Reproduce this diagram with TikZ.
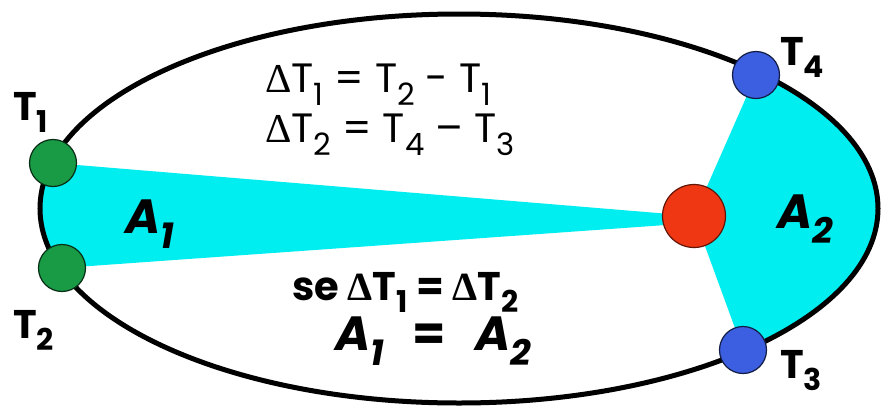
\documentclass[tikz,border=0pt]{standalone}
\usepackage{fontspec}
\setmainfont{Poppins}
\newfontfamily\grk{Liberation Serif}
\definecolor{skyfill}{RGB}{0,238,240}
\definecolor{planetgreen}{RGB}{25,155,70}
\definecolor{planetblue}{RGB}{60,95,225}
\definecolor{sunred}{RGB}{240,55,20}
\newcommand\sbx[1]{\raisebox{-0.32em}{\scalebox{0.75}{#1}}}
\newcommand\dlt{{\grk Δ}}
\tikzset{
  orbit/.style={line width=5pt, black},
  planetg/.style={circle, draw=black!70!planetgreen, line width=1.2pt, fill=planetgreen, minimum size=47pt, inner sep=0pt},
  planetb/.style={circle, draw=black!70!planetblue, line width=1.2pt, fill=planetblue, minimum size=47pt, inner sep=0pt},
  sunstyle/.style={circle, draw=black!60!sunred, line width=1.2pt, fill=sunred, minimum size=63pt, inner sep=0pt},
  lab/.style={anchor=base west, inner sep=0pt, font=\fontsize{40}{44}\selectfont\bfseries},
  eqn/.style={anchor=base west, inner sep=0pt, font=\fontsize{41}{44}\selectfont},
  areal/.style={anchor=base west, inner sep=0pt, font=\fontsize{48}{50}\selectfont\bfseries\itshape},
}
\begin{document}
\begin{tikzpicture}[x=1pt,y=-1pt]
\useasboundingbox (0,0) rectangle (883,410);
\fill[white] (0,0) rectangle (883,410);
\coordinate (O) at (459,208.5);
% swept areas
\begin{scope}
  \clip (O) ellipse [x radius=419pt, y radius=194.5pt];
  \fill[skyfill] (694,216) -- (53,163) -- (0,158.6) -- (0,272.4) -- (62,268) -- (694,223) -- cycle;
  \fill[skyfill] (694,216) -- (756,75) -- (800,-25) -- (950,-25) -- (950,505) -- (800,505) -- (743,350) -- cycle;
\end{scope}
\draw[orbit] (O) ellipse [x radius=419pt, y radius=194.5pt];
\node[sunstyle] (sun) at (694,216) {};
\node[planetg] (p1) at (53,163) {};
\node[planetg] (p2) at (62,268) {};
\node[planetb] (p4) at (756,75) {};
\node[planetb] (p3) at (743,350) {};
% labels
\node[lab] (l1) at (13,120) {T\sbx{1}};
\node[lab] (l2) at (13,338) {T\sbx{2}};
\node[lab] (l4) at (780,65) {T\sbx{4}};
\node[lab] (l3) at (780,378) {T\sbx{3}};
\node[areal] (a1) at (125,233) {A\sbx{1}};
\node[areal] (a2) at (777,228) {A\sbx{2}};
\node[eqn] (e1) at (265,92) {\dlt T\sbx{1} = T\sbx{2} - T\sbx{1}};
\node[eqn] (e2) at (265,142) {\dlt T\sbx{2} = T\sbx{4} -- T\sbx{3}};
\node[eqn, font=\fontsize{40}{44}\selectfont\bfseries] (e3) at (292,300) {se {\grk\bfseries Δ}T\sbx{1} = {\grk\bfseries Δ}T\sbx{2}};
\node[areal] (e4) at (335,350) {A\sbx{1}\hspace{0.6em}\textup{=}\hspace{0.6em}A\sbx{2}};
\end{tikzpicture}
\end{document}
